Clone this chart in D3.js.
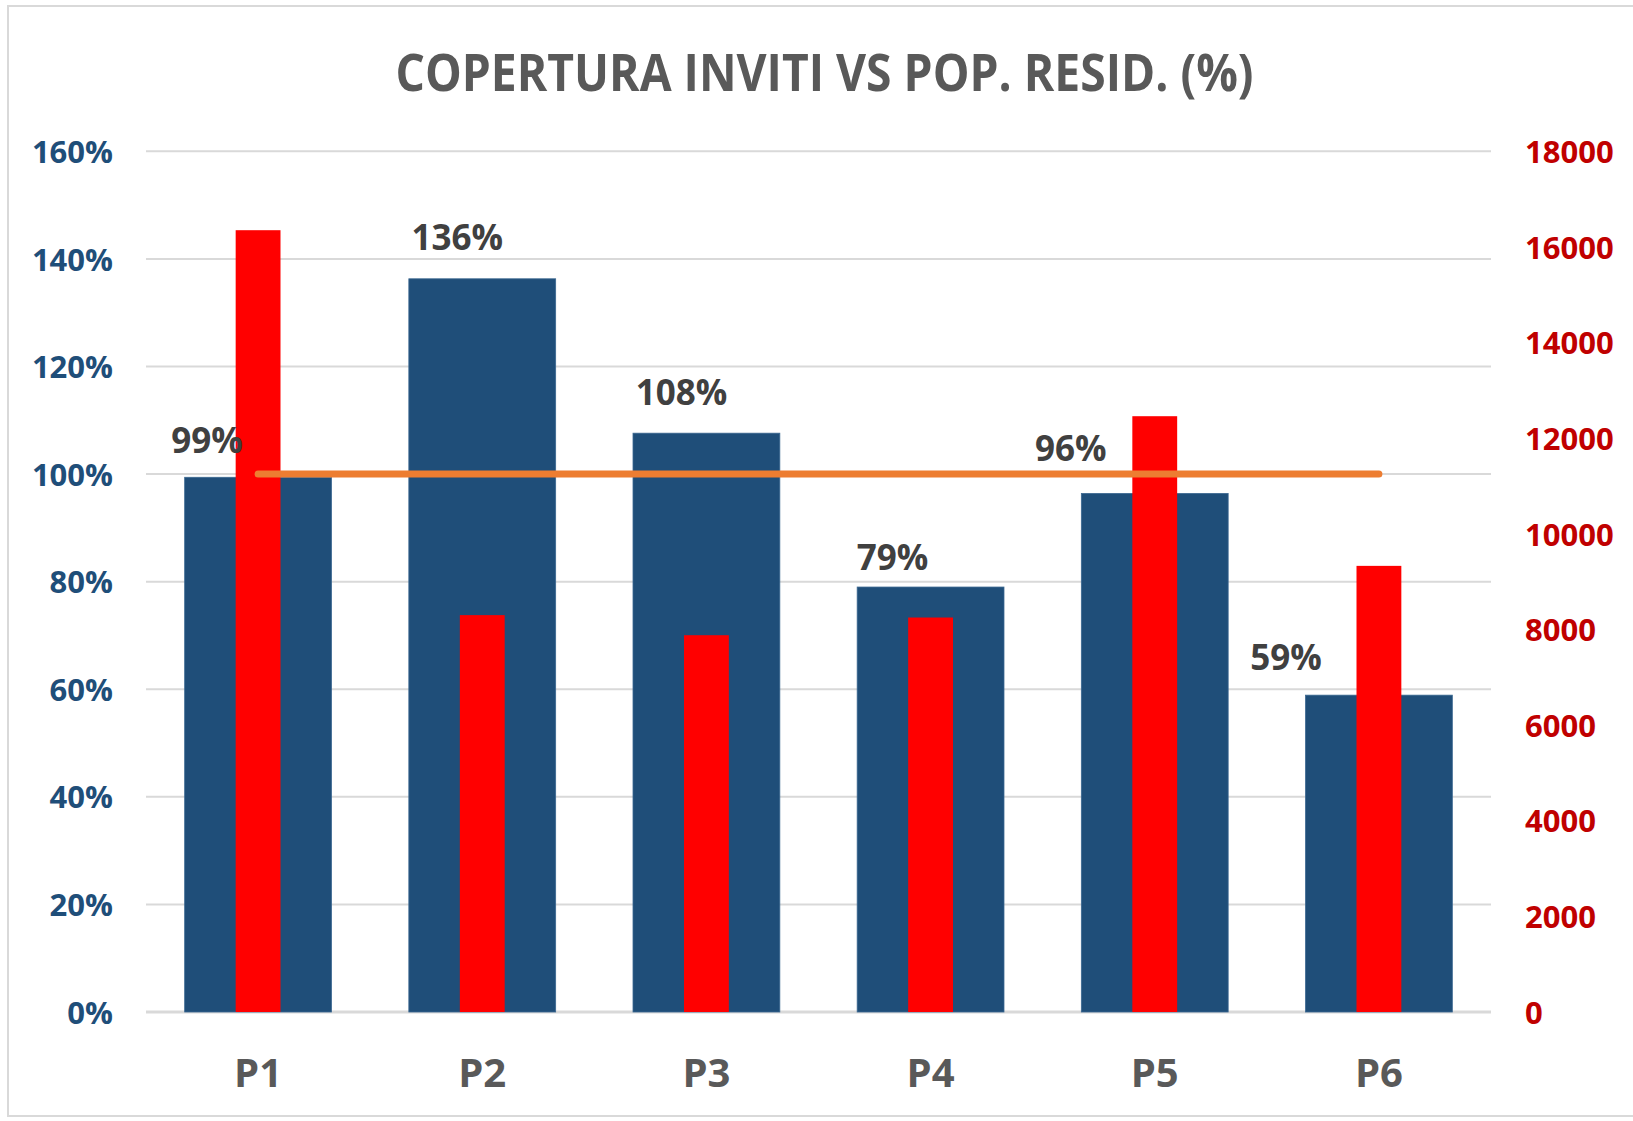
<!DOCTYPE html>
<html>
<head>
<meta charset="utf-8">
<script src="https://cdn.jsdelivr.net/npm/d3@7"></script>
<style>
  html, body { margin: 0; padding: 0; background: #ffffff; }
  svg { display: block; }
  text { font-family: "Open Sans", "Noto Sans", sans-serif; font-weight: 700; }
</style>
</head>
<body>
<svg id="chart" width="1633" height="1121"></svg>
<script>
// ---- data ----
const categories = ["P1", "P2", "P3", "P4", "P5", "P6"];
const coverage = [0.994, 1.363, 1.076, 0.790, 0.964, 0.589];      // left axis (%)
const coverageLabels = ["99%", "136%", "108%", "79%", "96%", "59%"];
const population = [16350, 8300, 7880, 8250, 12460, 9330];        // right axis
const target = [1, 1, 1, 1, 1, 1];                                 // orange reference line
const leftTicks = [0, 0.2, 0.4, 0.6, 0.8, 1.0, 1.2, 1.4, 1.6];
const rightTicks = [0, 2000, 4000, 6000, 8000, 10000, 12000, 14000, 16000, 18000];
const title = "COPERTURA INVITI VS POP. RESID. (%)";

// ---- layout (not data) ----
const labelOffsets = [[-51, -24], [-25, -29], [-25, -28], [-38, -17], [-84, -32], [-93, -25]];
const plot = { left: 146, right: 1491, top: 151.3, bottom: 1012 };

const svg = d3.select("#chart");

// outer frame
svg.append("rect")
  .attr("x", 8).attr("y", 6).attr("width", 1640).attr("height", 1110)
  .attr("fill", "#ffffff").attr("stroke", "#d9d9d9").attr("stroke-width", 2);

// scales
const x = d3.scaleBand().domain(categories).range([plot.left, plot.right])
  .paddingInner(0.345).paddingOuter(0.1725);
const step = x.step();
const yL = d3.scaleLinear().domain([0, 1.6]).range([plot.bottom, plot.top]);
const yR = d3.scaleLinear().domain([0, 18000]).range([plot.bottom, plot.top]);

// title
svg.append("text")
  .attr("x", 824.5).attr("y", 91)
  .attr("text-anchor", "middle")
  .attr("fill", "#595959")
  .attr("font-size", 52)
  .attr("textLength", 858)
  .attr("lengthAdjust", "spacingAndGlyphs")
  .text(title);

// gridlines
svg.append("g").selectAll("line").data(leftTicks).join("line")
  .attr("x1", plot.left).attr("x2", plot.right)
  .attr("y1", d => yL(d)).attr("y2", d => yL(d))
  .attr("stroke", "#d9d9d9")
  .attr("stroke-width", d => d === 0 ? 3 : 2);

// left axis
const axL = svg.append("g")
  .attr("transform", `translate(${plot.left},0)`)
  .call(d3.axisLeft(yL).tickValues(leftTicks).tickFormat(d3.format(".0%")).tickSize(0).tickPadding(33));
axL.select(".domain").remove();
axL.selectAll("text")
  .attr("fill", "#1F4E79").attr("font-size", 31)
  .attr("font-family", "'Open Sans', sans-serif").attr("font-weight", 700)
  .attr("dy", "0.36em");

// right axis
const axR = svg.append("g")
  .attr("transform", `translate(${plot.right},0)`)
  .call(d3.axisRight(yR).tickValues(rightTicks).tickFormat(d3.format("d")).tickSize(0).tickPadding(34));
axR.select(".domain").remove();
axR.selectAll("text")
  .attr("fill", "#C00000").attr("font-size", 31)
  .attr("font-family", "'Open Sans', sans-serif").attr("font-weight", 700)
  .attr("dy", "0.36em");

// x axis labels
const axX = svg.append("g")
  .attr("transform", `translate(0,${plot.bottom})`)
  .call(d3.axisBottom(x).tickSize(0).tickPadding(0));
axX.select(".domain").remove();
axX.selectAll("text")
  .attr("fill", "#595959").attr("font-size", 40)
  .attr("font-family", "'Open Sans', sans-serif").attr("font-weight", 700)
  .attr("dy", null)
  .attr("y", 75);

// blue bars
svg.append("g").selectAll("rect").data(categories).join("rect")
  .attr("x", d => x(d))
  .attr("width", x.bandwidth())
  .attr("y", (d, i) => yL(coverage[i]))
  .attr("height", (d, i) => yL(0) - yL(coverage[i]))
  .attr("fill", "#1F4E79")
  .attr("stroke", "#3b6891").attr("stroke-width", 0.8);

// red bars
const redW = step * 0.2;
svg.append("g").selectAll("rect").data(categories).join("rect")
  .attr("x", d => x(d) + x.bandwidth() / 2 - redW / 2)
  .attr("width", redW)
  .attr("y", (d, i) => yR(population[i]))
  .attr("height", (d, i) => yR(0) - yR(population[i]))
  .attr("fill", "#FF0000");

// orange target line
const line = d3.line()
  .x((d, i) => x(categories[i]) + x.bandwidth() / 2)
  .y(d => yL(d));
svg.append("path")
  .datum(target)
  .attr("d", line)
  .attr("fill", "none")
  .attr("stroke", "#ED7D31")
  .attr("stroke-width", 7)
  .attr("stroke-linecap", "round");

// data labels
svg.append("g").selectAll("text").data(categories).join("text")
  .attr("x", (d, i) => x(d) + x.bandwidth() / 2 + labelOffsets[i][0])
  .attr("y", (d, i) => yL(coverage[i]) + labelOffsets[i][1])
  .attr("text-anchor", "middle")
  .attr("fill", "#404040")
  .attr("font-size", 35)
  .text((d, i) => coverageLabels[i]);
</script>
</body>
</html>
